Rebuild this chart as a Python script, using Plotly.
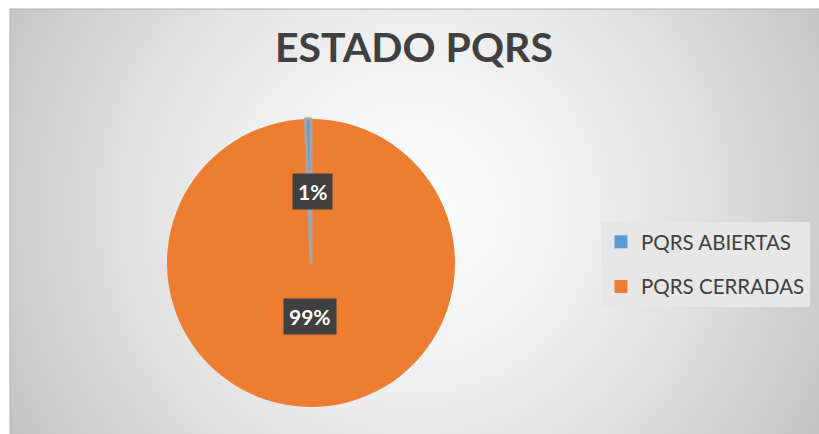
import numpy as np
import plotly.graph_objects as go

# ---- data ----
labels = ["PQRS ABIERTAS", "PQRS CERRADAS"]
values = [1, 160]
colors = ["#5B9BD5", "#ED7D31"]
title_text = "ESTADO PQRS"

W, H = 819, 434
FL, FT = 10, 9  # frame left / top in px

fig = go.Figure()

# ---- radial gradient background (decorative) ----
xs = np.linspace(FL, W, 140)
ys = np.linspace(FT, H, 80)
gx, gy = np.meshgrid(xs, ys)
cxg, cyg = 414, 208
dist = np.sqrt((gx - cxg) ** 2 + (gy - cyg) ** 2)
z = (dist / dist.max()) ** 1.5
fig.add_trace(go.Heatmap(x=xs, y=ys, z=z, zmin=0, zmax=1, zsmooth="best",
                         colorscale=[[0, "#fcfcfc"], [1, "#c3c3c3"]],
                         showscale=False, hoverinfo="skip"))

# ---- pie (counterclockwise, reversed so the small slice sits just right of 12 o'clock) ----
p_labels = labels[::-1]
p_values = values[::-1]
p_colors = colors[::-1]
line_colors = ["#ED7D31" if l == "PQRS CERRADAS" else "#A5A5A5" for l in p_labels]
line_widths = [0 if l == "PQRS CERRADAS" else 3 for l in p_labels]

PCX, PCY, R = 311, 263, 144
dom_x = [(PCX - R) / W, (PCX + R) / W]
dom_y = [(H - PCY - R) / H, (H - PCY + R) / H]
fig.add_trace(go.Pie(labels=p_labels, values=p_values, sort=False,
                     direction="counterclockwise", rotation=0,
                     marker=dict(colors=p_colors, line=dict(color=line_colors, width=line_widths)),
                     textinfo="none", hoverinfo="label+percent", showlegend=False,
                     domain=dict(x=dom_x, y=dom_y)))

# ---- percentage labels at half radius along each slice's mid-angle ----
total = sum(p_values)
cxp = (dom_x[0] + dom_x[1]) / 2
cyp = (dom_y[0] + dom_y[1]) / 2
cum = 0.0
annotations = []
for lab, v in zip(p_labels, p_values):
    mid = (cum + v / 2) / total * 2 * np.pi
    cum += v
    dx = -0.5 * R * np.sin(mid) / W
    dy = 0.5 * R * np.cos(mid) / H
    annotations.append(dict(x=cxp + dx, y=cyp + dy, xref="paper", yref="paper",
                            text=f"{round(100 * v / total)}%", showarrow=False,
                            bgcolor="#404040", borderpad=5,
                            font=dict(family="Lato", size=21, color="white", weight="bold")))

# ---- legend proxies (square swatches) ----
for lab, c in zip(labels, colors):
    fig.add_trace(go.Scatter(x=[None], y=[None], mode="markers", name=lab, legendgroup=lab,
                             marker=dict(symbol="square", size=13, color=c),
                             hoverinfo="skip", showlegend=True))

fig.update_layout(
    width=W, height=H, autosize=False,
    margin=dict(l=0, r=0, t=0, b=0),
    paper_bgcolor="white", plot_bgcolor="rgba(0,0,0,0)",
    xaxis=dict(domain=[FL / W, 1], range=[FL, W], visible=False, fixedrange=True),
    yaxis=dict(domain=[0, 1 - FT / H], range=[H, FT], visible=False, fixedrange=True),
    title=dict(text=title_text, x=414 / W, xanchor="center", y=1 - 48 / H, yanchor="middle",
               font=dict(family="Lato", size=41, color="#404040", weight="bold")),
    legend=dict(x=601 / W, y=1 - 222 / H, xanchor="left", yanchor="top",
                bgcolor="#e7e7e7", tracegroupgap=15,
                font=dict(family="Lato", size=20.5, color="#404040")),
    annotations=annotations,
    shapes=[dict(type="rect", xref="paper", yref="paper", x0=FL / W, x1=1.01, y0=-0.01, y1=1 - FT / H,
                 line=dict(color="#b0b0b0", width=1), layer="above")],
)

fig.write_html("out.html", config={"displayModeBar": False},
               post_script="document.body.style.margin='0';document.body.style.overflow='hidden';")
